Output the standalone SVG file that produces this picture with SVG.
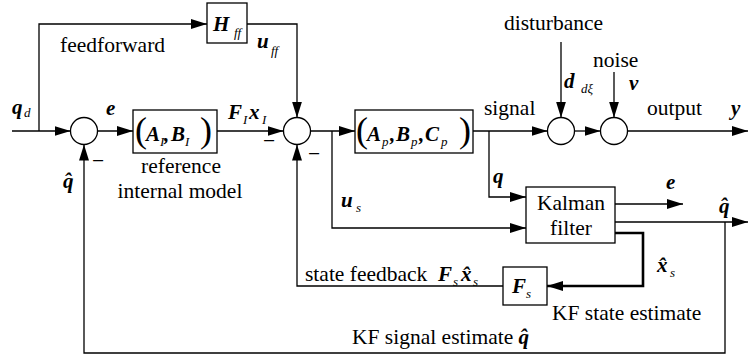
<svg xmlns="http://www.w3.org/2000/svg" width="749" height="358" viewBox="0 0 749 358" font-family="Liberation Serif, serif">
<style>
text{font-family:"Liberation Serif","Times New Roman",serif;fill:#000}
.t{font-size:21.5px}
.m{font-size:21px;font-weight:bold;font-style:italic}
.s{font-size:13px;font-style:italic;font-weight:normal}
.p{font-size:36px;font-weight:normal;font-style:normal}
.box{fill:#fff;stroke:#000;stroke-width:1.3}
.sum{fill:#fff;stroke:#000;stroke-width:1.3}
.ln{fill:none;stroke:#000;stroke-width:1.3}
.thick{fill:none;stroke:#000;stroke-width:2.6}
</style>
<defs>
<marker id="arr" viewBox="0 0 16 10" refX="16" refY="5" markerWidth="16" markerHeight="10" markerUnits="userSpaceOnUse" orient="auto">
<path d="M0,0 L16,5 L0,10 z" fill="#000"/>
</marker>
</defs>
<rect width="749" height="358" fill="#fff"/>
<g id="connectors">
<path class="ln" d="M12,131 H70.5" marker-end="url(#arr)"/>
<path class="ln" d="M39,131 V24 H207" marker-end="url(#arr)"/>
<path class="ln" d="M247,24 H297 V117.5" marker-end="url(#arr)"/>
<path class="ln" d="M97.5,131 H133" marker-end="url(#arr)"/>
<path class="ln" d="M217,131 H283.5" marker-end="url(#arr)"/>
<path class="ln" d="M310.5,131 H355" marker-end="url(#arr)"/>
<path class="ln" d="M332,131 V228 H526" marker-end="url(#arr)"/>
<path class="ln" d="M473,131 H547.5" marker-end="url(#arr)"/>
<path class="ln" d="M489,131 V197 H526" marker-end="url(#arr)"/>
<path class="ln" d="M574.5,131 H600.5" marker-end="url(#arr)"/>
<path class="ln" d="M627.5,131 H748" marker-end="url(#arr)"/>
<path class="ln" d="M561,42 V117.5" marker-end="url(#arr)"/>
<path class="ln" d="M614,72 V117.5" marker-end="url(#arr)"/>
<path class="ln" d="M615,204 H683" marker-end="url(#arr)"/>
<path class="ln" d="M615,222 H748" marker-end="url(#arr)"/>
<path class="ln" d="M725,222 V353 H84 V144.5" marker-end="url(#arr)"/>
<path class="thick" d="M615,233 H643 V286 H547" marker-end="url(#arr)"/>
<path class="ln" d="M503,286 H297 V144.5" marker-end="url(#arr)"/>
</g>
<g id="sum1"><circle class="sum" cx="84" cy="131" r="13.5"/></g>
<g id="sum2"><circle class="sum" cx="297" cy="131" r="13.5"/></g>
<g id="sum3"><circle class="sum" cx="561" cy="131" r="13.5"/></g>
<g id="sum4"><circle class="sum" cx="614" cy="131" r="13.5"/></g>
<g id="Hff">
<rect class="box" x="207" y="3" width="40" height="40"/>
<text><tspan class="m" x="213" y="31">H</tspan><tspan class="s" x="234" y="37">ff</tspan></text>
</g>
<g id="internal-model">
<rect class="box" x="133" y="110" width="84" height="43"/>
<text><tspan class="p" x="135" y="142">(</tspan><tspan class="m" x="146" y="141">A</tspan><tspan class="s" x="160" y="146">I</tspan><tspan class="m" x="164" y="141">,</tspan><tspan class="m" x="171" y="141">B</tspan><tspan class="s" x="185" y="146">I</tspan><tspan class="p" x="200" y="142">)</tspan></text>
</g>
<g id="plant">
<rect class="box" x="355" y="110" width="118" height="43"/>
<text><tspan class="p" x="356" y="142">(</tspan><tspan class="m" x="367" y="141">A</tspan><tspan class="s" x="382" y="146">p</tspan><tspan class="m" x="390" y="141">,</tspan><tspan class="m" x="396" y="141">B</tspan><tspan class="s" x="411" y="146">p</tspan><tspan class="m" x="419" y="141">,</tspan><tspan class="m" x="425" y="141">C</tspan><tspan class="s" x="441" y="146">p</tspan><tspan class="p" x="459" y="142">)</tspan></text>
</g>
<g id="kalman">
<rect class="box" x="526" y="187" width="89" height="56"/>
<text class="t" x="571" y="210" text-anchor="middle">Kalman</text>
<text class="t" x="571" y="235" text-anchor="middle">filter</text>
</g>
<g id="Fs">
<rect class="box" x="503" y="267" width="44" height="38"/>
<text><tspan class="m" x="512" y="293">F</tspan><tspan class="s" x="526" y="298">s</tspan></text>
</g>
<g id="labels">
<text class="t" x="60" y="52">feedforward</text>
<text><tspan class="m" x="12" y="114">q</tspan><tspan class="s" x="24" y="117">d</tspan></text>
<text class="m" x="106" y="115">e</text>
<text><tspan class="m" x="228" y="119">F</tspan><tspan class="s" x="243" y="124">I</tspan><tspan class="m" x="249" y="119">x</tspan><tspan class="s" x="262" y="124">I</tspan></text>
<text><tspan class="m" x="257" y="48">u</tspan><tspan class="s" x="271" y="55">ff</tspan></text>
<text class="t" x="181" y="173" text-anchor="middle">reference</text>
<text class="t" x="180" y="198" text-anchor="middle">internal model</text>
<text class="t" x="92" y="168">−</text>
<text class="t" x="263" y="148">−</text>
<text class="t" x="308" y="161">−</text>
<text class="m" x="63" y="188">q̂</text>
<text><tspan class="m" x="341" y="207">u</tspan><tspan class="s" x="356" y="212">s</tspan></text>
<text class="m" x="493" y="183">q</text>
<text class="t" x="484" y="115">signal</text>
<text class="t" x="504" y="30">disturbance</text>
<text class="t" x="593" y="67">noise</text>
<text><tspan class="m" x="564" y="88">d</tspan><tspan class="s" x="581" y="93">dξ</tspan></text>
<text class="m" x="629" y="90">v</text>
<text class="t" x="647" y="115">output</text>
<text class="m" x="731" y="115">y</text>
<text class="m" x="666" y="189">e</text>
<text class="m" x="719" y="213">q̂</text>
<text><tspan class="m" x="657" y="272">x̂</tspan><tspan class="s" x="670" y="277">s</tspan></text>
<text class="t" x="305" y="281">state feedback</text>
<text><tspan class="m" x="438" y="281">F</tspan><tspan class="s" x="453" y="286">s</tspan><tspan class="m" x="461" y="281">x̂</tspan><tspan class="s" x="473" y="286">s</tspan></text>
<text class="t" x="552" y="320">KF state estimate</text>
<text class="t" x="352" y="344">KF signal estimate <tspan class="m">q̂</tspan></text>
</g>
</svg>
